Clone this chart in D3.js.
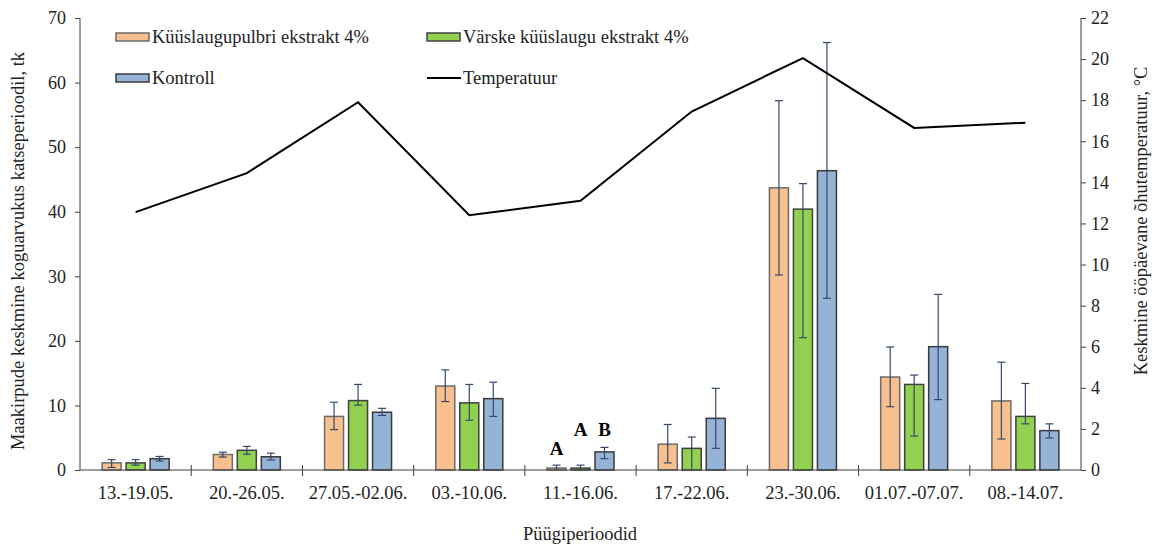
<!DOCTYPE html>
<html>
<head>
<meta charset="utf-8">
<script src="https://cdn.jsdelivr.net/npm/d3@7"></script>
<style>
  body { margin: 0; background: #fff; }
  svg { display: block; }
  svg text { font-family: "Liberation Serif", "Times New Roman", serif; }
</style>
</head>
<body>
<svg id="chart" width="1154" height="545"></svg>
<script>
// data
const periods = ["13.-19.05.", "20.-26.05.", "27.05.-02.06.", "03.-10.06.", "11.-16.06.",
                 "17.-22.06.", "23.-30.06.", "01.07.-07.07.", "08.-14.07."];
const seriesNames = ["Küüslaugupulbri ekstrakt 4%", "Värske küüslaugu ekstrakt 4%", "Kontroll"];
const powder = [1.1, 2.4, 8.3, 13.0, 0.3, 4.0, 43.7, 14.4, 10.7];
const powderLo = [0.4, 2.0, 6.25, 10.6, 0.0, 1.1, 30.2, 9.8, 4.8];
const powderHi = [1.6, 2.75, 10.5, 15.5, 0.75, 7.05, 57.2, 19.05, 16.7];
const fresh = [1.1, 3.05, 10.75, 10.4, 0.3, 3.35, 40.4, 13.25, 8.3];
const freshLo = [0.75, 2.45, 10.05, 7.7, 0.0, 0.0, 20.5, 5.25, 7.15];
const freshHi = [1.6, 3.65, 13.25, 13.25, 0.75, 5.1, 44.35, 14.7, 13.4];
const control = [1.75, 2.05, 8.95, 11.05, 2.8, 8.0, 46.35, 19.1, 6.1];
const controlLo = [1.4, 1.55, 8.45, 8.3, 1.75, 3.35, 26.6, 10.9, 4.95];
const controlHi = [2.1, 2.6, 9.55, 13.6, 3.5, 12.65, 66.2, 27.2, 7.15];
const temperature = [12.55, 14.45, 17.9, 12.4, 13.1, 17.45, 20.05, 16.65, 16.9];
const letterPeriod = "11.-16.06.";
const letters = ["A", "A", "B"];
const leftTicks = [0, 10, 20, 30, 40, 50, 60, 70];
const rightTicks = [0, 2, 4, 6, 8, 10, 12, 14, 16, 18, 20, 22];

const FONT = "Liberation Serif";
const COLORS = ["#f9c08f", "#92d050", "#95b3d7"];
const EDGES = ["#6b6b6b", "#404040", "#3a3a3a"];
const ERR = "#34496a";

const svg = d3.select("#chart").attr("font-family", FONT);
const PLOT_L = 80, PLOT_R = 1081, PLOT_T = 18, PLOT_B = 470;

const x = d3.scaleBand().domain(periods).range([PLOT_L, PLOT_R]);
const xs = d3.scaleBand().domain(seriesNames).range([-33.5, 33.5]).paddingInner(0.208);
const y = d3.scaleLinear().domain([0, 70]).range([PLOT_B, PLOT_T]);
const yT = d3.scaleLinear().domain([0, 22]).range([PLOT_B, PLOT_T]);

const series = [
  {name: seriesNames[0], vals: powder, lo: powderLo, hi: powderHi},
  {name: seriesNames[1], vals: fresh, lo: freshLo, hi: freshHi},
  {name: seriesNames[2], vals: control, lo: controlLo, hi: controlHi}
];

const bars = [];
series.forEach(function(s, si) {
  periods.forEach(function(p, i) {
    bars.push({p: p, s: s.name, si: si, v: s.vals[i], lo: s.lo[i], hi: s.hi[i]});
  });
});
const cx = d => x(d.p) + x.bandwidth() / 2 + xs(d.s) + xs.bandwidth() / 2;

// bars
svg.append("g").selectAll("rect")
  .data(bars).enter().append("rect")
  .attr("x", d => x(d.p) + x.bandwidth() / 2 + xs(d.s))
  .attr("y", d => y(d.v))
  .attr("width", xs.bandwidth())
  .attr("height", d => y(0) - y(d.v))
  .attr("fill", d => COLORS[d.si])
  .attr("stroke", d => EDGES[d.si])
  .attr("stroke-width", 1.5);

// error bars
const eb = svg.append("g").attr("stroke", ERR).attr("stroke-width", 1.2);
eb.selectAll("line.v").data(bars).enter().append("line")
  .attr("x1", cx).attr("x2", cx)
  .attr("y1", d => y(d.lo)).attr("y2", d => y(d.hi));
eb.selectAll("line.t").data(bars).enter().append("line")
  .attr("x1", d => cx(d) - 4).attr("x2", d => cx(d) + 4)
  .attr("y1", d => y(d.hi)).attr("y2", d => y(d.hi));
eb.selectAll("line.b").data(bars.filter(d => d.lo > 0)).enter().append("line")
  .attr("x1", d => cx(d) - 4).attr("x2", d => cx(d) + 4)
  .attr("y1", d => y(d.lo)).attr("y2", d => y(d.lo));

// significance letters
svg.append("g").selectAll("text")
  .data(letters.map((l, i) => ({p: letterPeriod, s: seriesNames[i], l: l, i: i})))
  .enter().append("text")
  .attr("x", d => x(d.p) + x.bandwidth() / 2 + xs(d.s) + xs.bandwidth() / 2)
  .attr("y", d => d.i === 0 ? 455 : 436)
  .attr("text-anchor", "middle")
  .attr("font-family", FONT)
  .attr("font-weight", "bold")
  .attr("font-size", 19)
  .text(d => d.l);

// temperature line
svg.append("path")
  .datum(temperature)
  .attr("fill", "none")
  .attr("stroke", "#000")
  .attr("stroke-width", 2)
  .attr("d", d3.line().x((d, i) => x(periods[i]) + x.bandwidth() / 2).y(d => yT(d)));

// axes
const yAxis = svg.append("g").attr("transform", `translate(${PLOT_L},0)`)
  .call(d3.axisLeft(y).tickValues(leftTicks).tickSize(5).tickPadding(9));
const yAxisR = svg.append("g").attr("transform", `translate(${PLOT_R},0)`)
  .call(d3.axisRight(yT).tickValues(rightTicks).tickSize(5).tickPadding(5));
[yAxis, yAxisR].forEach(function(a) {
  a.attr("font-family", FONT);
  a.select(".domain").attr("stroke", "#404040").attr("d", `M0,${PLOT_B}V${PLOT_T}`);
  a.selectAll(".tick line").attr("stroke", "#404040");
  a.selectAll("text").attr("font-family", FONT).attr("font-size", 18).attr("fill", "#222");
});

const xAxis = svg.append("g").attr("transform", `translate(0,${PLOT_B})`);
xAxis.append("line").attr("x1", PLOT_L).attr("x2", PLOT_R).attr("stroke", "#404040").attr("stroke-width", 1.2);
xAxis.selectAll("line.tk").data(periods.slice(1)).enter().append("line")
  .attr("x1", d => x(d)).attr("x2", d => x(d))
  .attr("y1", -5).attr("y2", 6)
  .attr("stroke", "#404040");
xAxis.selectAll("text").data(periods).enter().append("text")
  .attr("x", d => x(d) + x.bandwidth() / 2)
  .attr("y", 29)
  .attr("text-anchor", "middle")
  .attr("font-family", FONT)
  .attr("font-size", 18.5)
  .attr("fill", "#222")
  .text(d => d);

// axis titles
svg.append("text")
  .attr("x", 580).attr("y", 540)
  .attr("text-anchor", "middle").attr("font-family", FONT).attr("font-size", 18.5).attr("fill", "#222")
  .text("Püügiperioodid");
svg.append("text")
  .attr("transform", "translate(24,251) rotate(-90)")
  .attr("text-anchor", "middle").attr("font-family", FONT).attr("font-size", 18.5).attr("fill", "#222")
  .text("Maakirpude keskmine koguarvukus katseperioodil, tk");
svg.append("text")
  .attr("transform", "translate(1147,221) rotate(-90)")
  .attr("text-anchor", "middle").attr("font-family", FONT).attr("font-size", 18.5).attr("fill", "#222")
  .text("Keskmine ööpäevane õhutemperatuur, °C");

// legend
const legendItems = [
  {label: seriesNames[0], x: 116, y: 37, kind: "box", c: 0},
  {label: seriesNames[1], x: 427, y: 37, kind: "box", c: 1},
  {label: seriesNames[2], x: 116, y: 78, kind: "box", c: 2},
  {label: "Temperatuur", x: 427, y: 78, kind: "line"}
];
const lg = svg.append("g").selectAll("g").data(legendItems).enter().append("g")
  .attr("transform", d => `translate(${d.x},${d.y})`);
lg.filter(d => d.kind === "box").append("rect")
  .attr("x", 0).attr("y", -4).attr("width", 33).attr("height", 8)
  .attr("fill", d => COLORS[d.c]).attr("stroke", d => EDGES[d.c]).attr("stroke-width", 1.5);
lg.filter(d => d.kind === "line").append("line")
  .attr("x1", 0).attr("x2", 34).attr("y1", 0).attr("y2", 0)
  .attr("stroke", "#000").attr("stroke-width", 2);
lg.append("text")
  .attr("x", 36).attr("y", 6)
  .attr("font-family", FONT)
  .attr("font-size", 18.5).attr("fill", "#222")
  .text(d => d.label);
</script>
</body>
</html>
